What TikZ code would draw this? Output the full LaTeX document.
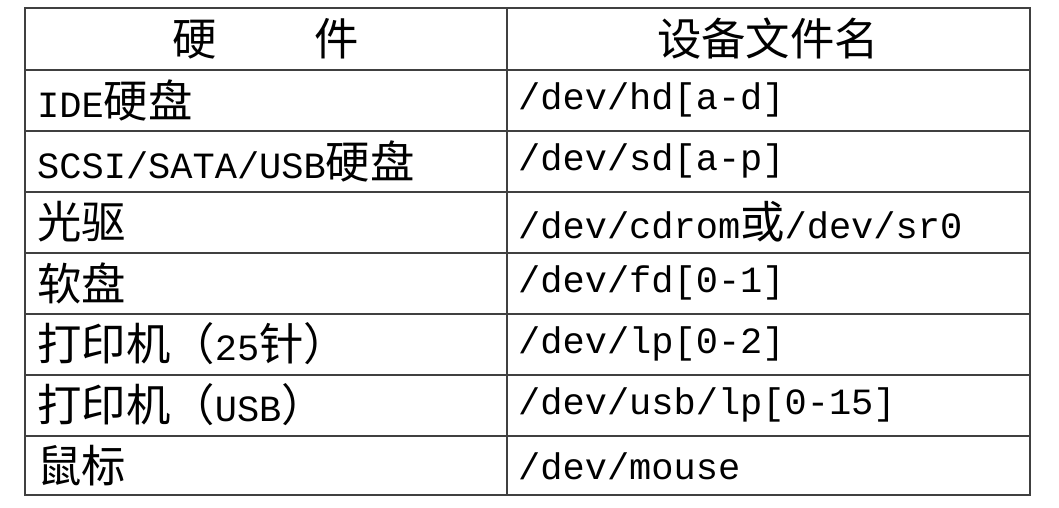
\documentclass[tikz,border=0pt]{standalone}
\usepackage{fontspec}
\setmainfont{Liberation Mono}
\newfontfamily\cjk{Noto Sans CJK SC}[Scale=1.2]
\begin{document}
\begin{tikzpicture}[x=1pt,y=-1pt,
  cell/.style={anchor=west,inner sep=0pt,font=\fontsize{37}{40}\selectfont},
  head/.style={anchor=center,inner sep=0pt,font=\fontsize{37}{40}\selectfont\cjk},
  grid/.style={draw=black!75,line width=1.3pt}]
\useasboundingbox (0,0) rectangle (1059,507);
\draw[grid] (25,8) rectangle (1030,495);
\draw[grid] (507,8) -- (507,495);
\foreach \y in {70,131,192,253,314,375,436} \draw[grid] (25,\y) -- (1030,\y);
\node[head] (h1) at (266,39) {硬\hspace{2.2em}件};
\node[head] (h2) at (768,39) {设备文件名};
\node[cell] (a1) at (37,100) {IDE{\cjk 硬盘}};
\node[cell] (b1) at (518,100) {/dev/hd[a-d]};
\node[cell] (a2) at (37,161) {SCSI/SATA/USB{\cjk 硬盘}};
\node[cell] (b2) at (518,161) {/dev/sd[a-p]};
\node[cell] (a3) at (37,222) {\cjk 光驱};
\node[cell] (b3) at (518,222) {/dev/cdrom{\cjk 或}/dev/sr0};
\node[cell] (a4) at (37,283) {\cjk 软盘};
\node[cell] (b4) at (518,283) {/dev/fd[0-1]};
\node[cell] (a5) at (37,344) {{\cjk 打印机（}25{\cjk 针）}};
\node[cell] (b5) at (518,344) {/dev/lp[0-2]};
\node[cell] (a6) at (37,405) {{\cjk 打印机（}USB{\cjk ）}};
\node[cell] (b6) at (518,405) {/dev/usb/lp[0-15]};
\node[cell] (a7) at (37,466) {\cjk 鼠标};
\node[cell] (b7) at (518,466) {/dev/mouse};
\end{tikzpicture}
\end{document}
